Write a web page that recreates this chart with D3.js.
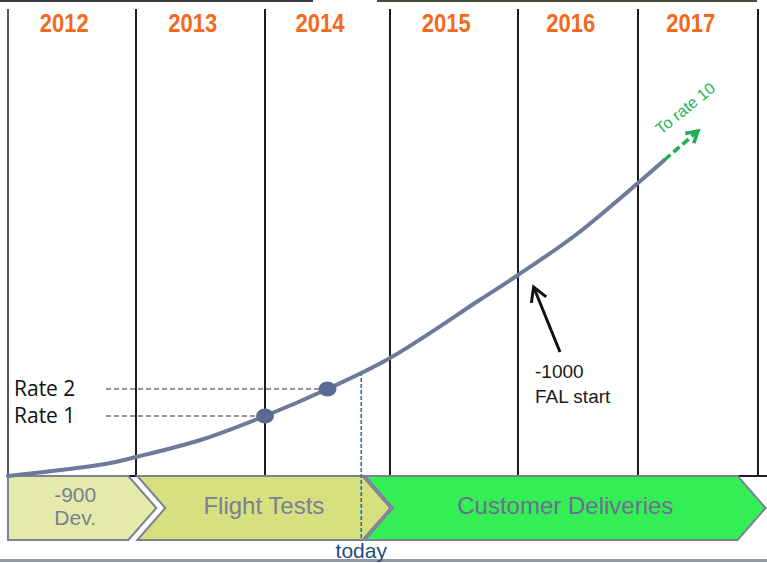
<!DOCTYPE html>
<html>
<head>
<meta charset="utf-8">
<script src="https://cdn.jsdelivr.net/npm/d3@7"></script>
<style>
  html, body { margin: 0; padding: 0; background: #fff; }
  svg { display: block; }
</style>
</head>
<body>
<svg id="chart" width="767" height="563"></svg>
<script>
// ---------- DATA ----------
const yearBoundaries = [2012, 2013, 2014, 2015, 2016, 2017, 2018];
const yearLabels = ["2012", "2013", "2014", "2015", "2016", "2017"];

// ramp-up curve: time (year) vs production ramp index
const curveTimes  = [2012.0, 2012.76, 2013.0, 2013.5, 2014.0, 2014.5, 2015.0, 2015.7, 2016.0, 2016.48, 2017.0, 2017.22];
const curveValues = [0,      3,       4.75,   9,      15,     21.75,  29.5,   44,     50.25,  60.25,   73.25,  79];

const rateLabels = ["Rate 1", "Rate 2"];
const rateTimes  = [2014.0, 2014.5];
const rateValues = [15, 21.75];

const todayTime = 2014.77;
const todayValue = 26;

const phaseLabels = [["-900", "Dev."], ["Flight Tests"], ["Customer Deliveries"]];
const phaseStart  = [2012.0, 2013.01, 2014.80];
const phaseEnd    = [2012.94, 2014.78, 2017.83];
const phaseNotch  = [false, true, true];

const falLabel = ["-1000", "FAL start"];
const falArrowFrom = [2016.35, 31];
const falArrowTo   = [2016.13, 47.25];

const extLabel = "To rate 10";
const extTarget = [2017.5, 86.25];

// ---------- LAYOUT ----------
const W = 767, H = 563;
const svg = d3.select("#chart");
const baseY = 476, bandTop = 476, bandBottom = 540, tip = 28;

const x = d3.scaleLinear()
  .domain(yearBoundaries)
  .range([8, 136, 265, 390, 518, 638, 758]);
const y = d3.scaleLinear().domain([0, 100]).range([baseY, 76]);

// top strip (edge of original slide)
svg.append("rect").attr("x", 0).attr("y", 0).attr("width", 313).attr("height", 2).attr("fill", "#3d3838");
svg.append("rect").attr("x", 377).attr("y", 0).attr("width", 380).attr("height", 2).attr("fill", "#4a4a3c");

// vertical year boundaries
svg.append("g").selectAll("line").data(yearBoundaries).join("line")
  .attr("x1", d => x(d)).attr("x2", d => x(d))
  .attr("y1", 9).attr("y2", baseY)
  .attr("stroke", (d, i) => i === 0 ? "#555" : "#1c1e24")
  .attr("stroke-width", 2);

// baseline
svg.append("line").attr("x1", 8).attr("x2", W).attr("y1", baseY).attr("y2", baseY)
  .attr("stroke", "#1c1e24").attr("stroke-width", 2);

// year labels
svg.append("g").selectAll("text").data(yearLabels).join("text")
  .attr("transform", (d, i) => `translate(${x(yearBoundaries[i] + 0.44)},32) scale(1,1.14)`)
  .attr("text-anchor", "middle")
  .attr("font-family", "Liberation Sans, Arial, sans-serif")
  .attr("font-weight", "bold")
  .attr("font-size", 22)
  .attr("fill", "#f26a1c")
  .text(d => d);

// bottom gray rule
svg.append("rect").attr("x", 0).attr("y", 559).attr("width", W).attr("height", 3).attr("fill", "#8e97ab");

// rate guide dashed lines
svg.append("g").selectAll("line").data(rateTimes).join("line")
  .attr("x1", 106).attr("x2", d => x(d))
  .attr("y1", (d, i) => y(rateValues[i])).attr("y2", (d, i) => y(rateValues[i]))
  .attr("stroke", "#6f7388").attr("stroke-width", 1.5).attr("stroke-dasharray", "5,3");

svg.append("g").selectAll("text").data(rateLabels).join("text")
  .attr("x", 14)
  .attr("y", (d, i) => y(rateValues[i]) + 7)
  .attr("font-family", "Open Sans, sans-serif")
  .attr("font-size", 21)
  .attr("fill", "#111")
  .text(d => d);

// chevron phases
function chevron(i) {
  const xs = x(phaseStart[i]), xe = x(phaseEnd[i]), ym = (bandTop + bandBottom) / 2;
  const pts = [[xs, bandTop], [xe, bandTop], [xe + tip, ym], [xe, bandBottom], [xs, bandBottom]];
  if (phaseNotch[i]) pts.push([xs + tip, ym]);
  return "M" + pts.map(p => p.join(",")).join("L") + "Z";
}
const phaseFill = ["#e4eaa9", "#d7e07f", "#33ef55"];
const phaseText = ["#7a7f94", "#7a7f94", "#6d6f90"];
const pg = svg.append("g");
pg.selectAll("path").data(phaseLabels).join("path")
  .attr("d", (d, i) => chevron(i))
  .attr("fill", (d, i) => phaseFill[i])
  .attr("stroke", "#7d8196").attr("stroke-width", 2).attr("stroke-linejoin", "miter");
phaseLabels.forEach((lines, i) => {
  const xs = x(phaseStart[i]), xe = x(phaseEnd[i]);
  const cx = ((phaseNotch[i] ? xs + tip / 2 : xs) + xe + tip / 2) / 2;
  const t = pg.append("text")
    .attr("text-anchor", "middle")
    .attr("font-family", "Liberation Sans, Arial, sans-serif")
    .attr("fill", phaseText[i]);
  if (lines.length === 2) {
    t.attr("font-size", 21);
    t.append("tspan").attr("x", cx).attr("y", 502).text(lines[0]);
    t.append("tspan").attr("x", cx).attr("y", 525).text(lines[1]);
  } else {
    t.attr("font-size", 24).attr("x", cx).attr("y", 514).text(lines[0]);
  }
});

// today marker
svg.append("line")
  .attr("x1", x(todayTime)).attr("x2", x(todayTime))
  .attr("y1", y(todayValue)).attr("y2", bandBottom - 2)
  .attr("stroke", "#3a6a96").attr("stroke-width", 1.6).attr("stroke-dasharray", "4,2");
svg.append("text")
  .attr("x", x(todayTime)).attr("y", 558)
  .attr("text-anchor", "middle")
  .attr("font-family", "Liberation Sans, Arial, sans-serif")
  .attr("font-size", 21)
  .attr("fill", "#1f4e79")
  .text("today");

// ramp-up curve
const line = d3.line().x(d => x(d[0])).y(d => y(d[1])).curve(d3.curveCatmullRom.alpha(0.5));
svg.append("path")
  .datum(curveTimes.map((t, i) => [t, curveValues[i]]))
  .attr("d", line)
  .attr("fill", "none")
  .attr("stroke", "#6e7a99")
  .attr("stroke-width", 4)
  .attr("stroke-linecap", "round");

// rate dots
svg.append("g").selectAll("ellipse").data(rateTimes).join("ellipse")
  .attr("cx", d => x(d)).attr("cy", (d, i) => y(rateValues[i]))
  .attr("rx", 9).attr("ry", 7.5)
  .attr("fill", "#5b6a93");

// arrow helper
function arrow(g, x1, y1, x2, y2, color, width, dash, head) {
  g.append("line").attr("x1", x1).attr("y1", y1).attr("x2", x2).attr("y2", y2)
    .attr("stroke", color).attr("stroke-width", width)
    .attr("stroke-dasharray", dash || null);
  const a = Math.atan2(y2 - y1, x2 - x1), s = Math.PI / 6;
  const p1 = [x2 - head * Math.cos(a - s), y2 - head * Math.sin(a - s)];
  const p2 = [x2 - head * Math.cos(a + s), y2 - head * Math.sin(a + s)];
  g.append("path").attr("d", `M${p1}L${x2},${y2}L${p2}`)
    .attr("fill", "none").attr("stroke", color).attr("stroke-width", width)
    .attr("stroke-linejoin", "miter").attr("stroke-linecap", "butt");
}

// FAL arrow
const fg = svg.append("g");
arrow(fg, x(falArrowFrom[0]), y(falArrowFrom[1]), x(falArrowTo[0]), y(falArrowTo[1]), "#111", 3, null, 16);
const ft = svg.append("text")
  .attr("font-family", "Liberation Sans, Arial, sans-serif")
  .attr("font-size", 19).attr("fill", "#1a1a1a");
ft.append("tspan").attr("x", 535).attr("y", 378).text(falLabel[0]);
ft.append("tspan").attr("x", 535).attr("y", 403).text(falLabel[1]);

// extension arrow
const last = curveTimes.length - 1;
const eg = svg.append("g");
arrow(eg, x(curveTimes[last]), y(curveValues[last]), x(extTarget[0]), y(extTarget[1]), "#1faf52", 3.5, "8,4", 13);
svg.append("text")
  .attr("transform", "translate(661,135) rotate(-39)")
  .attr("font-family", "Liberation Sans, Arial, sans-serif")
  .attr("font-size", 16)
  .attr("fill", "#22b457")
  .text(extLabel);
</script>
</body>
</html>
